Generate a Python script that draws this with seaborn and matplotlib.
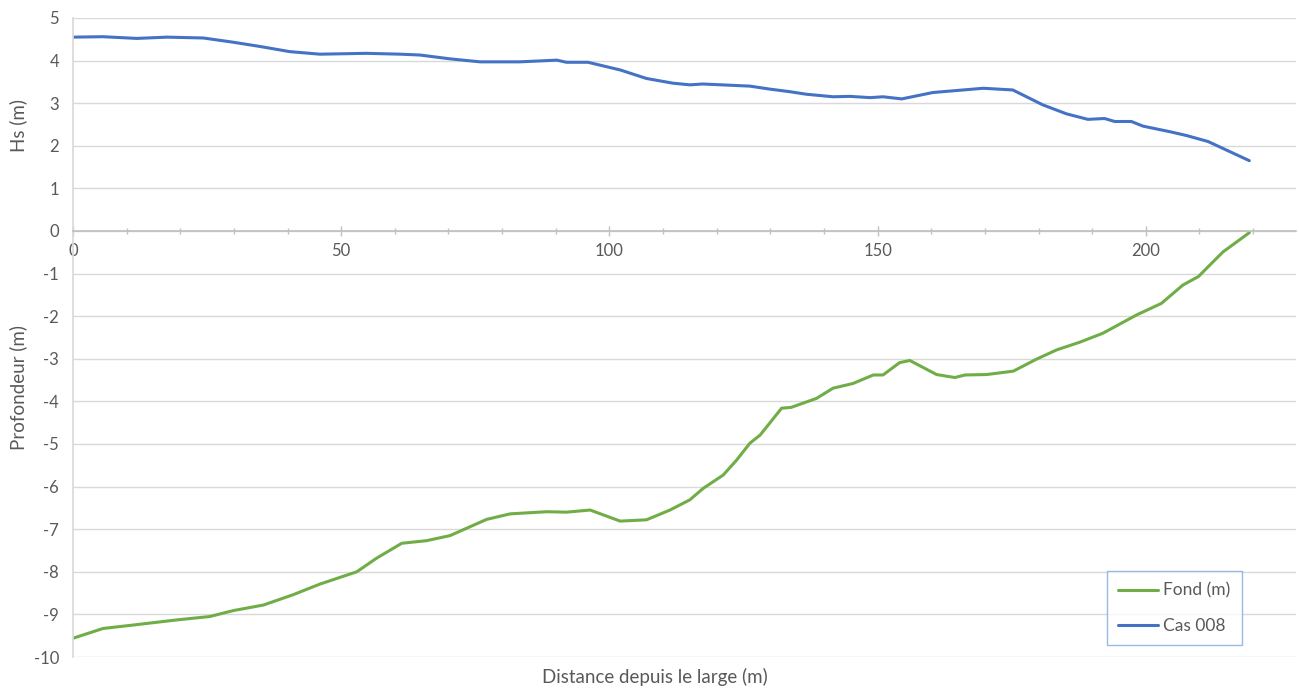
import numpy as np
import pandas as pd
import matplotlib
matplotlib.use('Agg')
import matplotlib.pyplot as plt
import seaborn as sns
from matplotlib.ticker import MultipleLocator

# Hs (m) along the profile - "Cas 008"
hs_x = [0, 5.6, 11.9, 17.5, 24.3, 29.9, 34.9, 40.4, 46, 54.7, 61, 64.7, 70.3, 75.9,
        83.3, 90.2, 92, 96, 102, 106.9, 111.8, 115, 117.4, 126.2, 129.9, 133.6,
        136.7, 141.7, 144.8, 148.6, 151, 154.5, 160.3, 169.7, 175.2, 180.8, 185.2,
        189.2, 192.3, 194.2, 197.3, 199.5, 204.5, 207.6, 211.6, 219.3]
hs_y = [4.55, 4.56, 4.52, 4.55, 4.53, 4.43, 4.33, 4.21, 4.15, 4.17, 4.15, 4.13, 4.04,
        3.97, 3.97, 4.01, 3.96, 3.96, 3.78, 3.58, 3.47, 3.43, 3.45, 3.40, 3.33, 3.27,
        3.21, 3.15, 3.16, 3.13, 3.15, 3.10, 3.25, 3.35, 3.31, 2.96, 2.75, 2.62, 2.64,
        2.57, 2.57, 2.46, 2.33, 2.24, 2.10, 1.65]

# Bottom depth (m) - "Fond (m)"
fond_x = [0, 5.6, 11.2, 19.3, 25.5, 29.9, 35.5, 41, 46, 52.9, 56.6, 61.3, 65.9, 70.3,
          77.1, 81.5, 88.3, 92, 96.4, 102, 106.9, 111.3, 115, 117.5, 121.2, 123.7,
          126.2, 128.1, 132.1, 133.9, 138.6, 141.7, 145.4, 149.2, 151, 154.1, 156,
          161, 164.4, 166.3, 170.3, 175.3, 179.6, 183.4, 187.7, 192, 198.3, 202.9,
          206.9, 209.8, 214.4, 219.3]
fond_y = [-9.56, -9.33, -9.25, -9.13, -9.05, -8.91, -8.78, -8.54, -8.29, -8.0, -7.68,
          -7.33, -7.27, -7.15, -6.77, -6.64, -6.59, -6.6, -6.55, -6.81, -6.78, -6.55,
          -6.31, -6.04, -5.73, -5.38, -4.98, -4.79, -4.16, -4.14, -3.93, -3.69, -3.58,
          -3.38, -3.38, -3.09, -3.04, -3.37, -3.44, -3.38, -3.37, -3.29, -3.01, -2.79,
          -2.61, -2.40, -1.97, -1.70, -1.27, -1.07, -0.49, -0.04]

fond_df = pd.DataFrame({'x': fond_x, 'y': fond_y})
hs_df = pd.DataFrame({'x': hs_x, 'y': hs_y})

sns.set_theme(style='white')
plt.rcParams['font.family'] = ['Lato', 'DejaVu Sans']
plt.rcParams['axes.unicode_minus'] = False

grey = '#595959'
fig = plt.figure(figsize=(12.99, 6.91), dpi=100)
ax = fig.add_axes([0.0562, 0.0492, 0.9415, 0.9248])

sns.lineplot(data=fond_df, x='x', y='y', ax=ax, color='#70AD47', linewidth=2.2,
             sort=False, estimator=None, label='Fond (m)')
sns.lineplot(data=hs_df, x='x', y='y', ax=ax, color='#4472C4', linewidth=2.2,
             sort=False, estimator=None, label='Cas 008')

ax.set_xlim(0, 228)
ax.set_ylim(-10, 5)
ax.yaxis.set_major_locator(MultipleLocator(1))
ax.xaxis.set_major_locator(MultipleLocator(50))
ax.xaxis.set_minor_locator(MultipleLocator(10))
ax.grid(axis='y', color='#d9d9d9', linewidth=1)
ax.set_axisbelow(True)

for s in ['top', 'right']:
    ax.spines[s].set_visible(False)
ax.spines['left'].set_color('#d9d9d9')
ax.spines['bottom'].set_position(('data', 0))
ax.spines['bottom'].set_color('#bfbfbf')
ax.spines['bottom'].set_linewidth(1.2)

ax.tick_params(axis='x', which='major', direction='inout', length=7, width=1,
               color='#bfbfbf', labelcolor=grey, labelsize=12, pad=5, bottom=True)
ax.tick_params(axis='x', which='minor', direction='inout', length=4, width=1,
               color='#bfbfbf', bottom=True)
ax.tick_params(axis='y', length=0, labelcolor=grey, labelsize=12, pad=10)

ax.set_xlabel('')
ax.set_ylabel('')
fig.text(18 / 1299, 1 - 125 / 691, 'Hs (m)', rotation=90, ha='center', va='center',
         color=grey, fontsize=13.5)
fig.text(18 / 1299, 1 - 388 / 691, 'Profondeur (m)', rotation=90, ha='center',
         va='center', color=grey, fontsize=13.5)
fig.text(655 / 1299, 1 - 677 / 691, 'Distance depuis le large (m)', ha='center',
         va='center', color=grey, fontsize=13.5)

leg = ax.legend(loc='lower left', bbox_to_anchor=(1107 / 1299, 1 - 645 / 691),
                bbox_transform=fig.transFigure, frameon=True, fancybox=False,
                fontsize=12.5, handlelength=2.3, labelspacing=1.1, borderpad=0.65,
                handletextpad=0.3, borderaxespad=0)
leg.get_frame().set_edgecolor('#7fa8dc')
leg.get_frame().set_linewidth(1)
for t in leg.get_texts():
    t.set_color(grey)

fig.savefig('out.png', dpi=100)
